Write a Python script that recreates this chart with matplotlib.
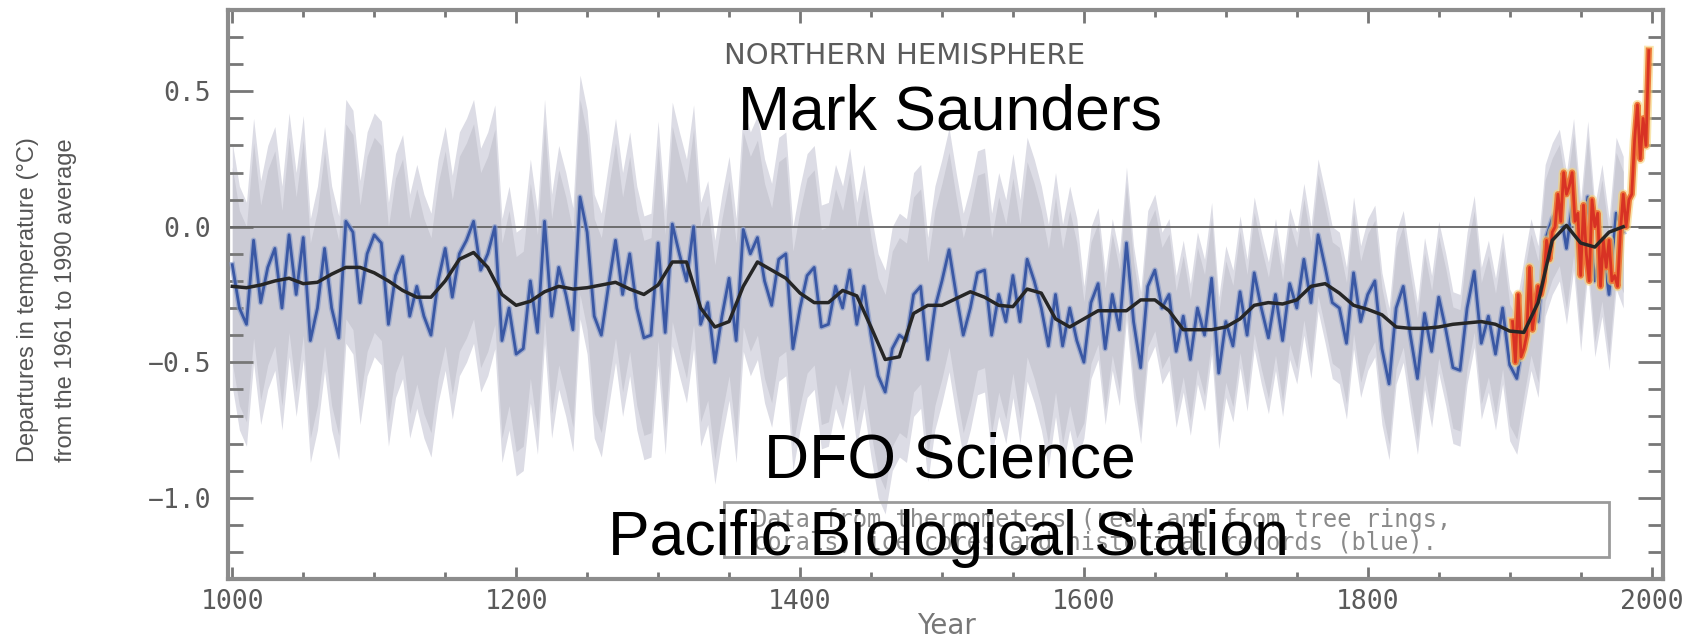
import numpy as np
import matplotlib
matplotlib.use('Agg')
from matplotlib import pyplot as plt
from matplotlib.patches import Rectangle
from matplotlib.ticker import MultipleLocator

# proxy reconstruction, sampled every 5 years 1000-1980
proxy_years = np.arange(1000, 1981, 5)
proxy = [
    -0.14, -0.30, -0.36, -0.05, -0.28, -0.15, -0.08, -0.30, -0.03, -0.25,
    -0.04, -0.42, -0.30, -0.08, -0.30, -0.41, 0.02, -0.02, -0.28, -0.10,
    -0.03, -0.06, -0.36, -0.18, -0.11, -0.33, -0.22, -0.33, -0.40, -0.20,
    -0.08, -0.26, -0.10, -0.05, 0.02, -0.16, -0.10, 0.00, -0.42, -0.30,
    -0.47, -0.45, -0.20, -0.39, 0.02, -0.33, -0.15, -0.25, -0.38, 0.11,
    -0.02, -0.33, -0.40, -0.22, -0.05, -0.25, -0.10, -0.30, -0.41, -0.40,
    -0.06, -0.39, 0.01, -0.10, -0.20, 0.00, -0.36, -0.28, -0.50, -0.33,
    -0.19, -0.42, -0.01, -0.10, -0.04, -0.20, -0.29, -0.12, -0.10, -0.45,
    -0.30, -0.18, -0.15, -0.37, -0.36, -0.22, -0.30, -0.16, -0.36, -0.22,
    -0.40, -0.55, -0.61, -0.45, -0.40, -0.42, -0.25, -0.22, -0.49, -0.30,
    -0.20, -0.085, -0.25, -0.40, -0.30, -0.17, -0.16, -0.40, -0.25, -0.35,
    -0.18, -0.35, -0.12, -0.20, -0.30, -0.44, -0.25, -0.44, -0.30, -0.42,
    -0.50, -0.28, -0.21, -0.45, -0.25, -0.38, -0.06, -0.35, -0.52, -0.22,
    -0.16, -0.30, -0.25, -0.46, -0.33, -0.49, -0.30, -0.40, -0.19, -0.54,
    -0.35, -0.44, -0.24, -0.40, -0.17, -0.30, -0.41, -0.25, -0.42, -0.21,
    -0.30, -0.12, -0.28, -0.03, -0.15, -0.28, -0.30, -0.43, -0.17, -0.35,
    -0.25, -0.20, -0.45, -0.58, -0.30, -0.22, -0.40, -0.56, -0.32, -0.46,
    -0.26, -0.38, -0.52, -0.53, -0.30, -0.165, -0.43, -0.33, -0.47, -0.30,
    -0.51, -0.56, -0.40, -0.25, -0.35, -0.05, 0.03, 0.08, -0.08, 0.12,
    -0.18, 0.11, -0.20, -0.05, -0.25, 0.05, -0.02,
]

# smoothed (40-yr) curve, every 10 years
smooth_years = np.arange(1000, 1981, 10)
smooth = [
    -0.22, -0.225, -0.215, -0.20, -0.19, -0.21, -0.205, -0.175, -0.15, -0.15,
    -0.17, -0.20, -0.235, -0.26, -0.26, -0.20, -0.12, -0.095, -0.15, -0.25,
    -0.29, -0.275, -0.24, -0.22, -0.23, -0.225, -0.215, -0.205, -0.23, -0.25,
    -0.215, -0.13, -0.13, -0.30, -0.37, -0.35, -0.22, -0.13, -0.16, -0.19,
    -0.245, -0.28, -0.28, -0.235, -0.255, -0.37, -0.49, -0.48, -0.32, -0.29,
    -0.29, -0.265, -0.24, -0.26, -0.29, -0.295, -0.23, -0.245, -0.34, -0.37,
    -0.34, -0.31, -0.31, -0.31, -0.27, -0.27, -0.31, -0.38, -0.38, -0.38,
    -0.37, -0.34, -0.29, -0.28, -0.285, -0.27, -0.22, -0.21, -0.245, -0.29,
    -0.305, -0.325, -0.37, -0.375, -0.375, -0.37, -0.36, -0.355, -0.35, -0.36,
    -0.385, -0.39, -0.28, -0.05, 0.005, -0.06, -0.075, -0.02, 0.0,
]

# thermometer record, every 2 years 1902-1998
therm_years = np.arange(1902, 1999, 2)
therm = [
    -0.35, -0.50, -0.25, -0.48, -0.45, -0.40, -0.15, -0.38, -0.30, -0.22,
    -0.25, -0.20, -0.05, -0.12, -0.02, 0.00, 0.12, 0.02, 0.20, 0.12,
    0.15, 0.20, 0.02, 0.05, -0.18, 0.08, -0.10, -0.20, 0.10, 0.00,
    0.05, -0.22, -0.05, -0.15, -0.05, -0.20, -0.18, -0.22, -0.02, 0.12,
    0.00, 0.10, 0.12, 0.32, 0.45, 0.25, 0.40, 0.30, 0.65,
]

# half width of the grey uncertainty band, before / after 1600
band_split = 1600
band_half = [0.45, 0.28]

xticks = [1000, 1200, 1400, 1600, 1800, 2000]
yticks = [-1.0, -0.5, 0.0, 0.5]

proxy = np.array(proxy)
half = np.where(proxy_years < band_split, band_half[0], band_half[1])

fig = plt.figure(figsize=(17.03, 6.37), dpi=100)
ax = fig.add_axes([0.1339, 0.0911, 0.8426, 0.8932])

# grey band: pale outer edge, denser core
ax.fill_between(proxy_years, proxy - half, proxy + half, color='#dcdce5', lw=0, zorder=1)
ax.fill_between(proxy_years, proxy - 0.8 * half, proxy + 0.8 * half, color='#cbcbd5', lw=0, zorder=1)
ax.axhline(0, color='#666666', lw=1.3, zorder=2)
ax.plot(proxy_years, proxy, color='#8c9dc9', lw=4, alpha=0.7, zorder=3)
ax.plot(proxy_years, proxy, color='#3a58a4', lw=2, zorder=3)

ax.plot(therm_years, therm, color='#f5d47a', lw=7, alpha=0.6, zorder=4)
ax.plot(therm_years, therm, color='#ee7a3a', lw=4.5, zorder=4)
ax.plot(therm_years, therm, color='#d83224', lw=2, zorder=4)

ax.plot(smooth_years, smooth, color='#262626', lw=2.5, zorder=5)

ax.set_xlim(997, 2008)
ax.set_ylim(-1.3, 0.8)
ax.set_xticks(xticks)
ax.set_yticks(yticks)
ax.xaxis.set_minor_locator(MultipleLocator(50))
ax.yaxis.set_minor_locator(MultipleLocator(0.1))
ax.set_yticklabels(['\u22121.0', '\u22120.5', '0.0', '0.5'])
ax.tick_params(which='both', direction='in', top=True, right=True, color='#777777', width=2)
ax.tick_params(axis='y', which='major', length=18, pad=12)
ax.tick_params(axis='y', which='minor', length=11)
ax.tick_params(axis='x', which='major', length=9, pad=7)
ax.tick_params(axis='x', which='minor', length=5)
for lab in ax.get_xticklabels() + ax.get_yticklabels():
    lab.set_family('DejaVu Sans Mono')
    lab.set_fontsize(19)
    lab.set_color('#5a5a5a')
for sp in ax.spines.values():
    sp.set_color('#8c8c8c')
    sp.set_linewidth(3)

# key box
ax.add_patch(Rectangle((0.3456, 0.0387), 0.617, 0.0967, transform=ax.transAxes,
                       fill=False, ec='#9a9a9a', lw=2, zorder=6))
ax.text(0.366, 0.1037, 'Data from thermometers (red) and from tree rings,', transform=ax.transAxes,
        family='DejaVu Sans Mono', fontsize=17, color='#8a8a8a', va='center', zorder=6)
ax.text(0.366, 0.0633, 'corals, ice cores and historical records (blue).', transform=ax.transAxes,
        family='DejaVu Sans Mono', fontsize=17, color='#8a8a8a', va='center', zorder=6)

fig.text(0.531, 0.912, 'NORTHERN HEMISPHERE', family='DejaVu Sans', fontsize=21,
         color='#5c5c5c', ha='center', va='center')
fig.text(0.0164, 0.529, 'Departures in temperature (\u00b0C)', rotation=90, family='Liberation Sans',
         fontsize=17, color='#555555', ha='center', va='center')
fig.text(0.0388, 0.529, 'from the 1961 to 1990 average', rotation=90, family='Liberation Sans',
         fontsize=17, color='#555555', ha='center', va='center')
fig.text(0.556, 0.018, 'Year', family='DejaVu Sans', fontsize=20, color='#777777',
         ha='center', va='center')

# overlaid credit text
fig.text(0.558, 0.796, 'Mark Saunders', family='Liberation Sans', fontsize=45, color='black',
         ha='center', va='baseline')
fig.text(0.558, 0.251, 'DFO Science', family='Liberation Sans', fontsize=45, color='black',
         ha='center', va='baseline')
fig.text(0.557, 0.1287, 'Pacific Biological Station', family='Liberation Sans', fontsize=45,
         color='black', ha='center', va='baseline', zorder=10)

fig.savefig('out.png', dpi=100)
